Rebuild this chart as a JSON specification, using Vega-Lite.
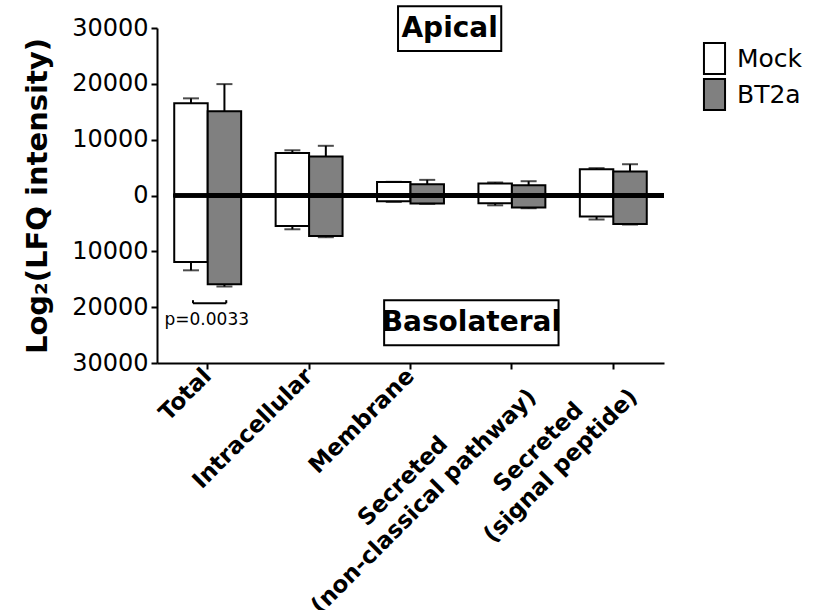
{
  "$schema": "https://vega.github.io/schema/vega-lite/v6.json",
  "width": 507,
  "height": 335,
  "autosize": {"type": "none"},
  "padding": {"left": 157, "top": 28, "right": 155, "bottom": 247},
  "background": "white",
  "config": {
    "font": "DejaVu Sans",
    "view": {"stroke": null},
    "axis": {
      "domainColor": "black", "domainWidth": 2, "tickColor": "black", "tickWidth": 2, "tickSize": 6,
      "labelColor": "black", "titleColor": "black", "grid": false
    }
  },
  "datasets": {
    "bars": [
      {"cat": "Total", "group": "Mock", "side": "Apical", "value": 16540, "err": 17400},
      {"cat": "Total", "group": "Mock", "side": "Basolateral", "value": -11900, "err": -13400},
      {"cat": "Total", "group": "BT2a", "side": "Apical", "value": 15100, "err": 19950},
      {"cat": "Total", "group": "BT2a", "side": "Basolateral", "value": -15900, "err": -16300},
      {"cat": "Intracellular", "group": "Mock", "side": "Apical", "value": 7600, "err": 8100},
      {"cat": "Intracellular", "group": "Mock", "side": "Basolateral", "value": -5450, "err": -6050},
      {"cat": "Intracellular", "group": "BT2a", "side": "Apical", "value": 7000, "err": 8900},
      {"cat": "Intracellular", "group": "BT2a", "side": "Basolateral", "value": -7250, "err": -7470},
      {"cat": "Membrane", "group": "Mock", "side": "Apical", "value": 2400, "err": 2450},
      {"cat": "Membrane", "group": "Mock", "side": "Basolateral", "value": -1050, "err": -1150},
      {"cat": "Membrane", "group": "BT2a", "side": "Apical", "value": 2000, "err": 2800},
      {"cat": "Membrane", "group": "BT2a", "side": "Basolateral", "value": -1430, "err": -1500},
      {"cat": "Secreted\u00a0\u00a0\u00a0\u00a0\u00a0\u00a0\u00a0\u00a0\u00a0\u00a0\u00a0\u00a0\u200b|(non-classical pathway)", "group": "Mock", "side": "Apical", "value": 2150, "err": 2330},
      {"cat": "Secreted\u00a0\u00a0\u00a0\u00a0\u00a0\u00a0\u00a0\u00a0\u00a0\u00a0\u00a0\u00a0\u200b|(non-classical pathway)", "group": "Mock", "side": "Basolateral", "value": -1400, "err": -1760},
      {"cat": "Secreted\u00a0\u00a0\u00a0\u00a0\u00a0\u00a0\u00a0\u00a0\u00a0\u00a0\u00a0\u00a0\u200b|(non-classical pathway)", "group": "BT2a", "side": "Apical", "value": 1850, "err": 2560},
      {"cat": "Secreted\u00a0\u00a0\u00a0\u00a0\u00a0\u00a0\u00a0\u00a0\u00a0\u00a0\u00a0\u00a0\u200b|(non-classical pathway)", "group": "BT2a", "side": "Basolateral", "value": -2150, "err": -2280},
      {"cat": "Secreted\u00a0\u00a0\u00a0\u00a0\u00a0\u00a0\u200b|(signal peptide)", "group": "Mock", "side": "Apical", "value": 4700, "err": 4900},
      {"cat": "Secreted\u00a0\u00a0\u00a0\u00a0\u00a0\u00a0\u200b|(signal peptide)", "group": "Mock", "side": "Basolateral", "value": -3770, "err": -4300},
      {"cat": "Secreted\u00a0\u00a0\u00a0\u00a0\u00a0\u00a0\u200b|(signal peptide)", "group": "BT2a", "side": "Apical", "value": 4300, "err": 5600},
      {"cat": "Secreted\u00a0\u00a0\u00a0\u00a0\u00a0\u00a0\u200b|(signal peptide)", "group": "BT2a", "side": "Basolateral", "value": -5090, "err": -5200}
    ],
    "boxes": [
      {"label": "Apical", "x1": 2.377, "x2": 3.395, "y1": 33900, "y2": 25860, "tx": 2.886, "ty": 29900},
      {"label": "Basolateral", "x1": 2.24, "x2": 3.96, "y1": -18760, "y2": -26830, "tx": 3.1, "ty": -22800}
    ],
    "bracket": [
      {"x": 0.355, "x2": 0.683, "y": -19300, "y2": -19300},
      {"x": 0.355, "x2": 0.355, "y": -19300, "y2": -18750},
      {"x": 0.683, "x2": 0.683, "y": -19300, "y2": -18750}
    ],
    "ptext": [
      {"label": "p=0.0033", "x": 0.491, "y": -22350}
    ]
  },
  "layer": [
    {
      "data": {"name": "bars"},
      "encoding": {
        "x": {
          "field": "cat", "type": "nominal", "sort": null,
          "scale": {"paddingInner": 0.34, "paddingOuter": 0.17},
          "axis": {
            "title": null, "labelAngle": -45, "labelAlign": "right", "labelBaseline": "middle",
            "labelFontSize": 23, "labelFontWeight": "bold", "labelPadding": 3,
            "labelExpr": "split(datum.label, '|')", "labelLineHeight": 29, "labelLimit": 400
          }
        },
        "xOffset": {"field": "group", "type": "nominal", "sort": ["Mock", "BT2a"], "scale": {"paddingInner": 0, "paddingOuter": 0}},
        "y": {
          "field": "value", "type": "quantitative",
          "scale": {"domain": [-30000, 30000], "nice": false},
          "axis": {
            "values": [-30000, -20000, -10000, 0, 10000, 20000, 30000],
            "labelExpr": "'' + abs(datum.value)",
            "labelFontSize": 24, "labelPadding": 3,
            "title": "Log₂(LFQ intensity)", "titleFontSize": 29, "titleFontWeight": "bold", "titlePadding": 19
          }
        }
      },
      "layer": [
        {
          "mark": {"type": "bar", "stroke": "black", "strokeWidth": 2},
          "encoding": {
            "fill": {
              "field": "group", "type": "nominal",
              "scale": {"domain": ["Mock", "BT2a"], "range": ["white", "#808080"]},
              "legend": {
                "orient": "none", "legendX": 541, "legendY": 14, "title": null,
                "symbolType": "M-0.68,-1H0.68V1H-0.68Z", "symbolSize": 961,
                "symbolStrokeColor": "black", "symbolStrokeWidth": 2, "symbolOpacity": 1,
                "labelFontSize": 25, "labelColor": "black", "rowPadding": -3, "labelOffset": 6
              }
            }
          }
        },
        {
          "mark": {"type": "rule", "color": "black", "strokeWidth": 2},
          "encoding": {"y2": {"field": "err"}}
        },
        {
          "mark": {"type": "tick", "color": "black", "thickness": 2, "size": 16},
          "encoding": {"y": {"field": "err", "type": "quantitative"}}
        },
        {
          "mark": {"type": "rule", "color": "black", "strokeWidth": 3.5},
          "encoding": {"y": {"datum": 0}, "x": {"value": 0}, "x2": {"value": 507}}
        }
      ]
    },
    {
      "layer": [
        {
          "data": {"name": "boxes"},
          "mark": {"type": "rect", "fill": "white", "stroke": "black", "strokeWidth": 2},
          "encoding": {
            "x": {"field": "x1", "type": "quantitative", "scale": {"domain": [0, 5], "nice": false, "zero": false}, "axis": null},
            "x2": {"field": "x2"},
            "y": {"field": "y1", "type": "quantitative"},
            "y2": {"field": "y2"}
          }
        },
        {
          "data": {"name": "boxes"},
          "mark": {"type": "text", "fontSize": 28, "fontWeight": "bold", "color": "black", "align": "center", "baseline": "middle"},
          "encoding": {
            "x": {"field": "tx", "type": "quantitative", "axis": null},
            "y": {"field": "ty", "type": "quantitative"},
            "text": {"field": "label"}
          }
        },
        {
          "data": {"name": "bracket"},
          "mark": {"type": "rule", "color": "black", "strokeWidth": 2},
          "encoding": {
            "x": {"field": "x", "type": "quantitative", "axis": null},
            "x2": {"field": "x2"},
            "y": {"field": "y", "type": "quantitative"},
            "y2": {"field": "y2"}
          }
        },
        {
          "data": {"name": "ptext"},
          "mark": {"type": "text", "fontSize": 17, "color": "black", "align": "center", "baseline": "middle"},
          "encoding": {
            "x": {"field": "x", "type": "quantitative", "axis": null},
            "y": {"field": "y", "type": "quantitative"},
            "text": {"field": "label"}
          }
        }
      ]
    }
  ],
  "resolve": {"scale": {"x": "independent"}, "axis": {"x": "independent"}}
}
